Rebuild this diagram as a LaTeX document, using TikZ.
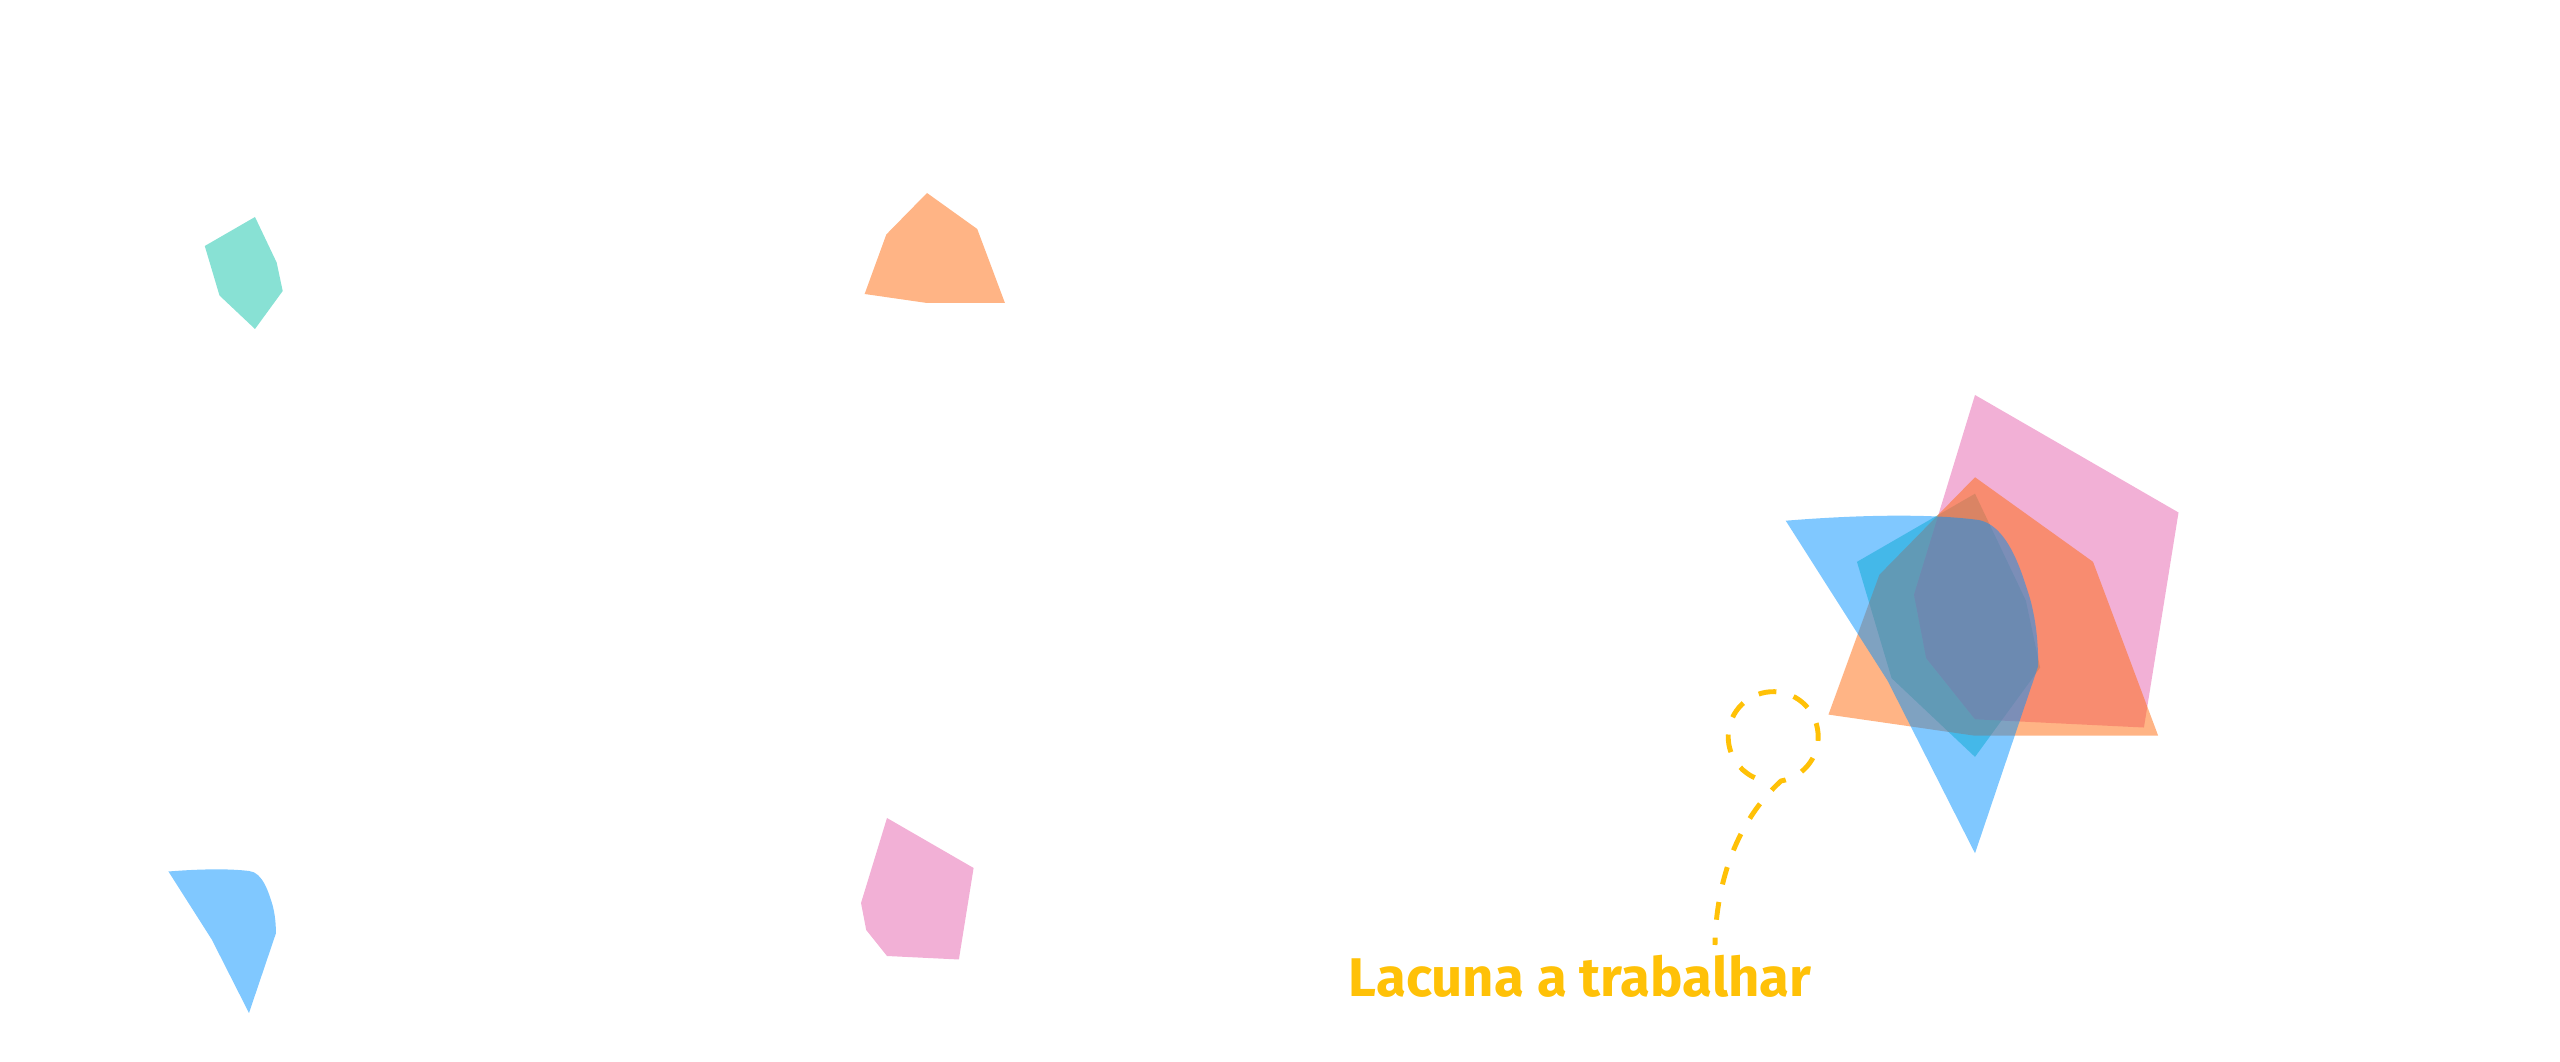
\documentclass[tikz,border=0pt]{standalone}
\usepackage{fontspec}
\setmainfont{Fira Sans}
\usepackage{xcolor}
\usepackage{tikz}
\usetikzlibrary{calc}

\definecolor{tealbase}{HTML}{11C3A9}
\definecolor{orangebase}{HTML}{FF690B}
\definecolor{pinkbase}{HTML}{E561AD}
\definecolor{bluebase}{HTML}{0191FF}
\definecolor{amber}{HTML}{FFC107}

% radar outlines, axes at -90,-30,30,90,150,210 (y points down)
\newcommand{\tealShape}{(-90:58) -- (-30:25) -- (30:32) -- (90:54) -- (150:41) -- (210:58) -- cycle}
\newcommand{\orangeShape}{(-90:65) -- (-30:58) -- (30:90) -- (90:45) -- (150:72) -- (210:47) -- cycle}
\newcommand{\pinkShape}{(-90:100) -- (-30:100) -- (30:83) -- (90:38) -- (150:24) -- (210:30) -- cycle}
\newcommand{\blueShape}{(210:93) .. controls (-50,-49) and (-20,-49.5) .. (-90:47)
  .. controls (14,-46) and (20,-24) .. (-30:27)
  .. controls (26,-4) and (27,6) .. (30:31) -- (90:95) -- (150:43) -- cycle}

\begin{document}
\begin{tikzpicture}[x=0.1mm, y=-0.1mm,
    tealarea/.style={fill=tealbase, fill opacity=0.5},
    orangearea/.style={fill=orangebase, fill opacity=0.5},
    pinkarea/.style={fill=pinkbase, fill opacity=0.5},
    bluearea/.style={fill=bluebase, fill opacity=0.5},
    trail/.style={draw=amber, line width=1.4pt, dash pattern=on 5.1pt off 5.1pt, dash phase=3pt},
    every node/.style={font=\bfseries\fontsize{15.5}{18}\selectfont}]
    \useasboundingbox (0,0) rectangle (2560,1062);

    % the four profiles
    \fill[tealarea, shift={(255,275)}] \tealShape;
    \fill[orangearea, shift={(927,258)}] \orangeShape;
    \fill[bluearea, shift={(249,918)}] \blueShape;
    \fill[pinkarea, shift={(887,918)}] \pinkShape;

    % all of them together
    \begin{scope}[shift={(1975,630)}, scale=2.35]
      \fill[tealarea] \tealShape;
      \fill[pinkarea] \pinkShape;
      \fill[orangearea] \orangeShape;
      \fill[bluearea] \blueShape;
    \end{scope}

    \node[text=amber, inner sep=0pt, anchor=base east] (gap) at (1812,997) {Lacuna a trabalhar};
    \coordinate (tail) at (1715,945);
    \coordinate (loopin) at (1781,781);
    \draw[trail] (tail) .. controls (1716,880) and (1738,820) .. (loopin)
      arc[start angle=80, end angle=-250, radius=45];
\end{tikzpicture}
\end{document}
